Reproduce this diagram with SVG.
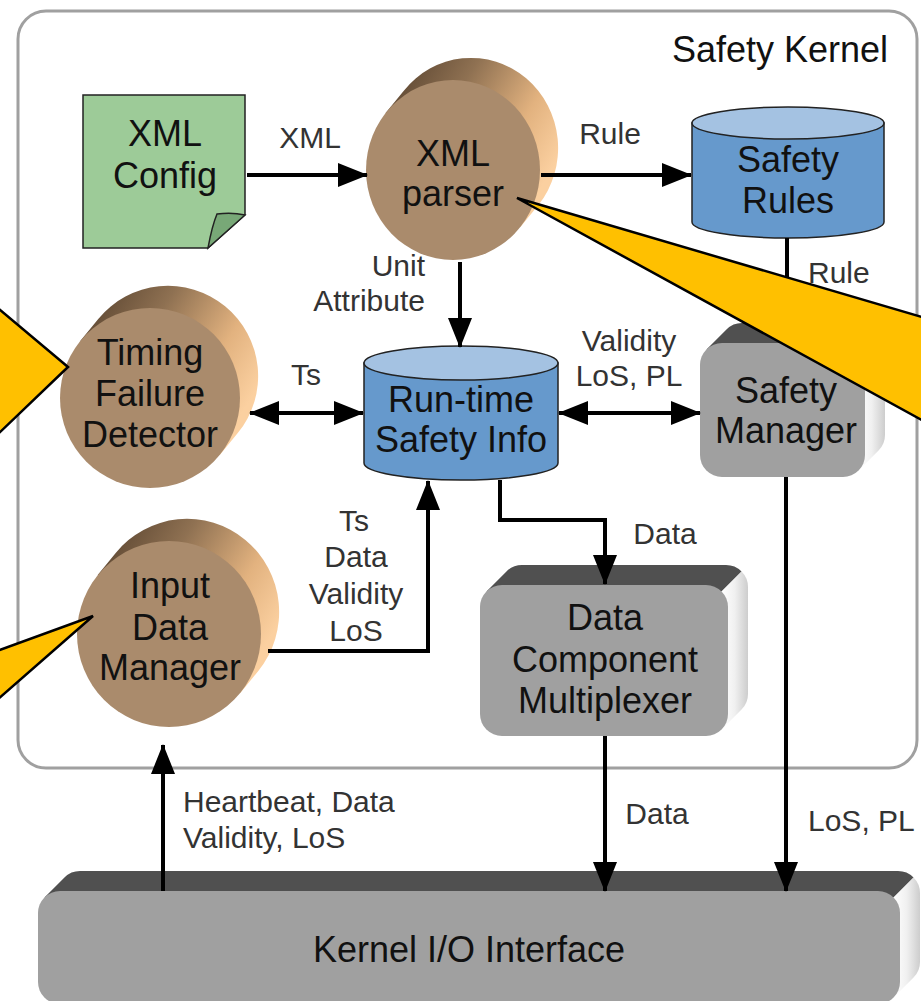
<svg xmlns="http://www.w3.org/2000/svg" width="921" height="1001" viewBox="0 0 921 1001">
  <style>
    .t { font-family: "Liberation Sans", Arial, sans-serif; font-size: 36px; text-anchor: middle; fill: #111; }
    .lbl { font-family: "Liberation Sans", Arial, sans-serif; font-size: 30px; fill: #333; }
    .mid { text-anchor: middle; }
    .end { text-anchor: end; }
    .conn { stroke: #000; stroke-width: 4; fill: none; }
    .arr { marker-end: url(#head); }
    .both { marker-start: url(#head); marker-end: url(#head); }
    .drumFace { fill: #aa8b6c; }
    .drumSide { fill: url(#drumSide); }
    .boxFront { fill: #a0a0a0; }
    .boxTop { fill: #505050; }
    .boxSide { fill: url(#boxSide); }
    .dbBody { fill: #6699cc; stroke: #222; stroke-width: 1.5; }
    .dbTop { fill: #a4c2e2; stroke: #222; stroke-width: 1.5; }
    .callout { fill: #ffc000; stroke: #000; stroke-width: 2.5; stroke-linejoin: miter; }
  </style>
  <defs>
    <linearGradient id="drumSide" x1="0" y1="0" x2="1" y2="0.6">
      <stop offset="0" stop-color="#4f3b29"/>
      <stop offset="0.4" stop-color="#8f7152"/>
      <stop offset="0.75" stop-color="#e2b27f"/>
      <stop offset="1" stop-color="#fbd0a0"/>
    </linearGradient>
    <linearGradient id="boxSide" x1="0" y1="0" x2="1" y2="0">
      <stop offset="0" stop-color="#ffffff"/>
      <stop offset="0.5" stop-color="#f0f0f0"/>
      <stop offset="1" stop-color="#cdcdcd"/>
    </linearGradient>
    <marker id="head" markerUnits="userSpaceOnUse" viewBox="0 0 30 24" markerWidth="30" markerHeight="24" refX="29" refY="12" orient="auto-start-reverse">
      <path d="M0,0 L30,12 L0,24 Z" fill="#000"/>
    </marker>
  </defs>

  <rect width="921" height="1001" fill="#fff"/>

  <!-- Safety Kernel boundary -->
  <g id="safety-kernel">
    <rect x="18" y="11" width="899" height="757" rx="28" fill="#fff" stroke="#a0a0a0" stroke-width="3"/>
    <text class="t" x="888" y="62" style="text-anchor:end">Safety Kernel</text>
  </g>

  <!-- XML Config document -->
  <g id="xml-config">
    <path d="M83,95 H245 V215 L208,248 H83 Z" fill="#9dcb98" stroke="#222" stroke-width="1.5"/>
    <path d="M208,248 Q212,226 217,214 Q232,212 245,215 Z" fill="#78a877" stroke="#222" stroke-width="1.5"/>
    <text class="t" x="165" y="146">XML</text>
    <text class="t" x="165" y="188">Config</text>
  </g>

  <!-- XML parser drum -->
  <g id="xml-parser">
    <path class="drumSide" d="M385.6,112.9 L403.6,90.9 A87 90 0 0 1 538.4,205.1 L520.4,227.1 Z"/>
    <ellipse class="drumFace" cx="453" cy="170" rx="87" ry="90"/>
    <text class="t" x="453" y="166">XML</text>
    <text class="t" x="453" y="206">parser</text>
  </g>

  <!-- Safety Rules store -->
  <g id="safety-rules">
    <path class="dbBody" d="M692,123 V222 A96 16 0 0 0 884,222 V123 Z"/>
    <ellipse class="dbTop" cx="788" cy="123" rx="96" ry="16"/>
    <text class="t" x="788" y="172">Safety</text>
    <text class="t" x="788" y="213">Rules</text>
  </g>

  <!-- Timing Failure Detector drum -->
  <g id="timing-failure-detector">
    <path class="drumSide" d="M80.25,340.9 L98.25,318.9 A90 90 0 0 1 237.75,433.1 L219.75,455.1 Z"/>
    <ellipse class="drumFace" cx="150" cy="398" rx="90" ry="90"/>
    <text class="t" x="150" y="365">Timing</text>
    <text class="t" x="150" y="406">Failure</text>
    <text class="t" x="150" y="447">Detector</text>
  </g>

  <!-- Run-time Safety Info store -->
  <g id="runtime-safety-info">
    <path class="dbBody" d="M364,363 V463 A97 17 0 0 0 558,463 V363 Z"/>
    <ellipse class="dbTop" cx="461" cy="363" rx="97" ry="17"/>
    <text class="t" x="461" y="412">Run-time</text>
    <text class="t" x="461" y="452">Safety Info</text>
  </g>

  <!-- Safety Manager box -->
  <g id="safety-manager">
    <path class="boxTop" d="M706.45,349.45 L726.45,329.45 A22 22 0 0 1 742,323 L863,323 A22 22 0 0 1 878.55,329.45 L858.55,349.45 Z"/>
    <path class="boxSide" d="M858.55,349.45 L878.55,329.45 A22 22 0 0 1 885,345 L885,435 A22 22 0 0 1 878.55,450.55 L858.55,470.55 Z"/>
    <rect class="boxFront" x="700" y="343" width="165" height="134" rx="22"/>
    <text class="t" x="786" y="403">Safety</text>
    <text class="t" x="786" y="443">Manager</text>
  </g>

  <!-- Input Data Manager drum -->
  <g id="input-data-manager">
    <path class="drumSide" d="M97.7,575 L115.7,553 A92 93 0 0 1 258.3,671 L240.3,693 Z"/>
    <ellipse class="drumFace" cx="169" cy="634" rx="92" ry="93"/>
    <text class="t" x="170" y="598">Input</text>
    <text class="t" x="170" y="640">Data</text>
    <text class="t" x="170" y="680">Manager</text>
  </g>

  <!-- Data Component Multiplexer box -->
  <g id="data-component-multiplexer">
    <path class="boxTop" d="M486.45,591.45 L506.45,571.45 A22 22 0 0 1 522,565 L726,565 A22 22 0 0 1 741.55,571.45 L721.55,591.45 Z"/>
    <path class="boxSide" d="M721.55,591.45 L741.55,571.45 A22 22 0 0 1 748,587 L748,694 A22 22 0 0 1 741.55,709.55 L721.55,729.55 Z"/>
    <rect class="boxFront" x="480" y="585" width="248" height="151" rx="22"/>
    <text class="t" x="605" y="630">Data</text>
    <text class="t" x="605" y="672">Component</text>
    <text class="t" x="605" y="713">Multiplexer</text>
  </g>

  <!-- Kernel I/O Interface box -->
  <g id="kernel-io-interface">
    <path class="boxTop" d="M44.45,897.45 L64.45,877.45 A22 22 0 0 1 80,871 L898,871 A22 22 0 0 1 913.55,877.45 L893.55,897.45 Z"/>
    <path class="boxSide" d="M893.55,897.45 L913.55,877.45 A22 22 0 0 1 920,893 L920,962 A22 22 0 0 1 913.55,977.55 L893.55,997.55 Z"/>
    <rect class="boxFront" x="38" y="891" width="862" height="113" rx="22"/>
    <text class="t" x="469" y="962">Kernel I/O Interface</text>
  </g>

  <!-- Connectors and their labels -->
  <g id="connectors">
    <path class="conn arr" d="M247,175 H367"/>
    <path class="conn arr" d="M541,175 H691"/>
    <path class="conn arr" d="M460,262 V347"/>
    <path class="conn both" d="M250,413 H363"/>
    <path class="conn both" d="M559,413 H700"/>
    <path class="conn arr" d="M268,651 H428 V481"/>
    <path class="conn arr" d="M500,480 V520 H605 V584"/>
    <path class="conn arr" d="M605,736 V891"/>
    <path class="conn arr" d="M786,477 V891"/>
    <path class="conn arr" d="M163,891 V745"/>
    <path class="conn arr" d="M787,238 V323"/>

    <text class="lbl mid" x="310" y="148">XML</text>
    <text class="lbl mid" x="610" y="144">Rule</text>
    <text class="lbl end" x="425" y="276">Unit</text>
    <text class="lbl end" x="425" y="311">Attribute</text>
    <text class="lbl" x="808" y="283">Rule</text>
    <text class="lbl mid" x="306" y="385">Ts</text>
    <text class="lbl mid" x="629" y="351">Validity</text>
    <text class="lbl mid" x="629" y="386">LoS, PL</text>
    <text class="lbl mid" x="354" y="531">Ts</text>
    <text class="lbl mid" x="356" y="567">Data</text>
    <text class="lbl mid" x="356" y="604">Validity</text>
    <text class="lbl mid" x="356" y="641">LoS</text>
    <text class="lbl mid" x="665" y="544">Data</text>
    <text class="lbl mid" x="657" y="824">Data</text>
    <text class="lbl" x="808" y="831">LoS, PL</text>
    <text class="lbl" x="183" y="812">Heartbeat, Data</text>
    <text class="lbl" x="183" y="848">Validity, LoS</text>
  </g>

  <!-- Pointer callouts -->
  <g id="callouts">
    <polygon class="callout" points="68,367 -50,268 -50,480"/>
    <polygon class="callout" points="93,616 -50,668 -50,741"/>
    <polygon class="callout" points="517,198 1000,340 1000,463"/>
  </g>
</svg>
